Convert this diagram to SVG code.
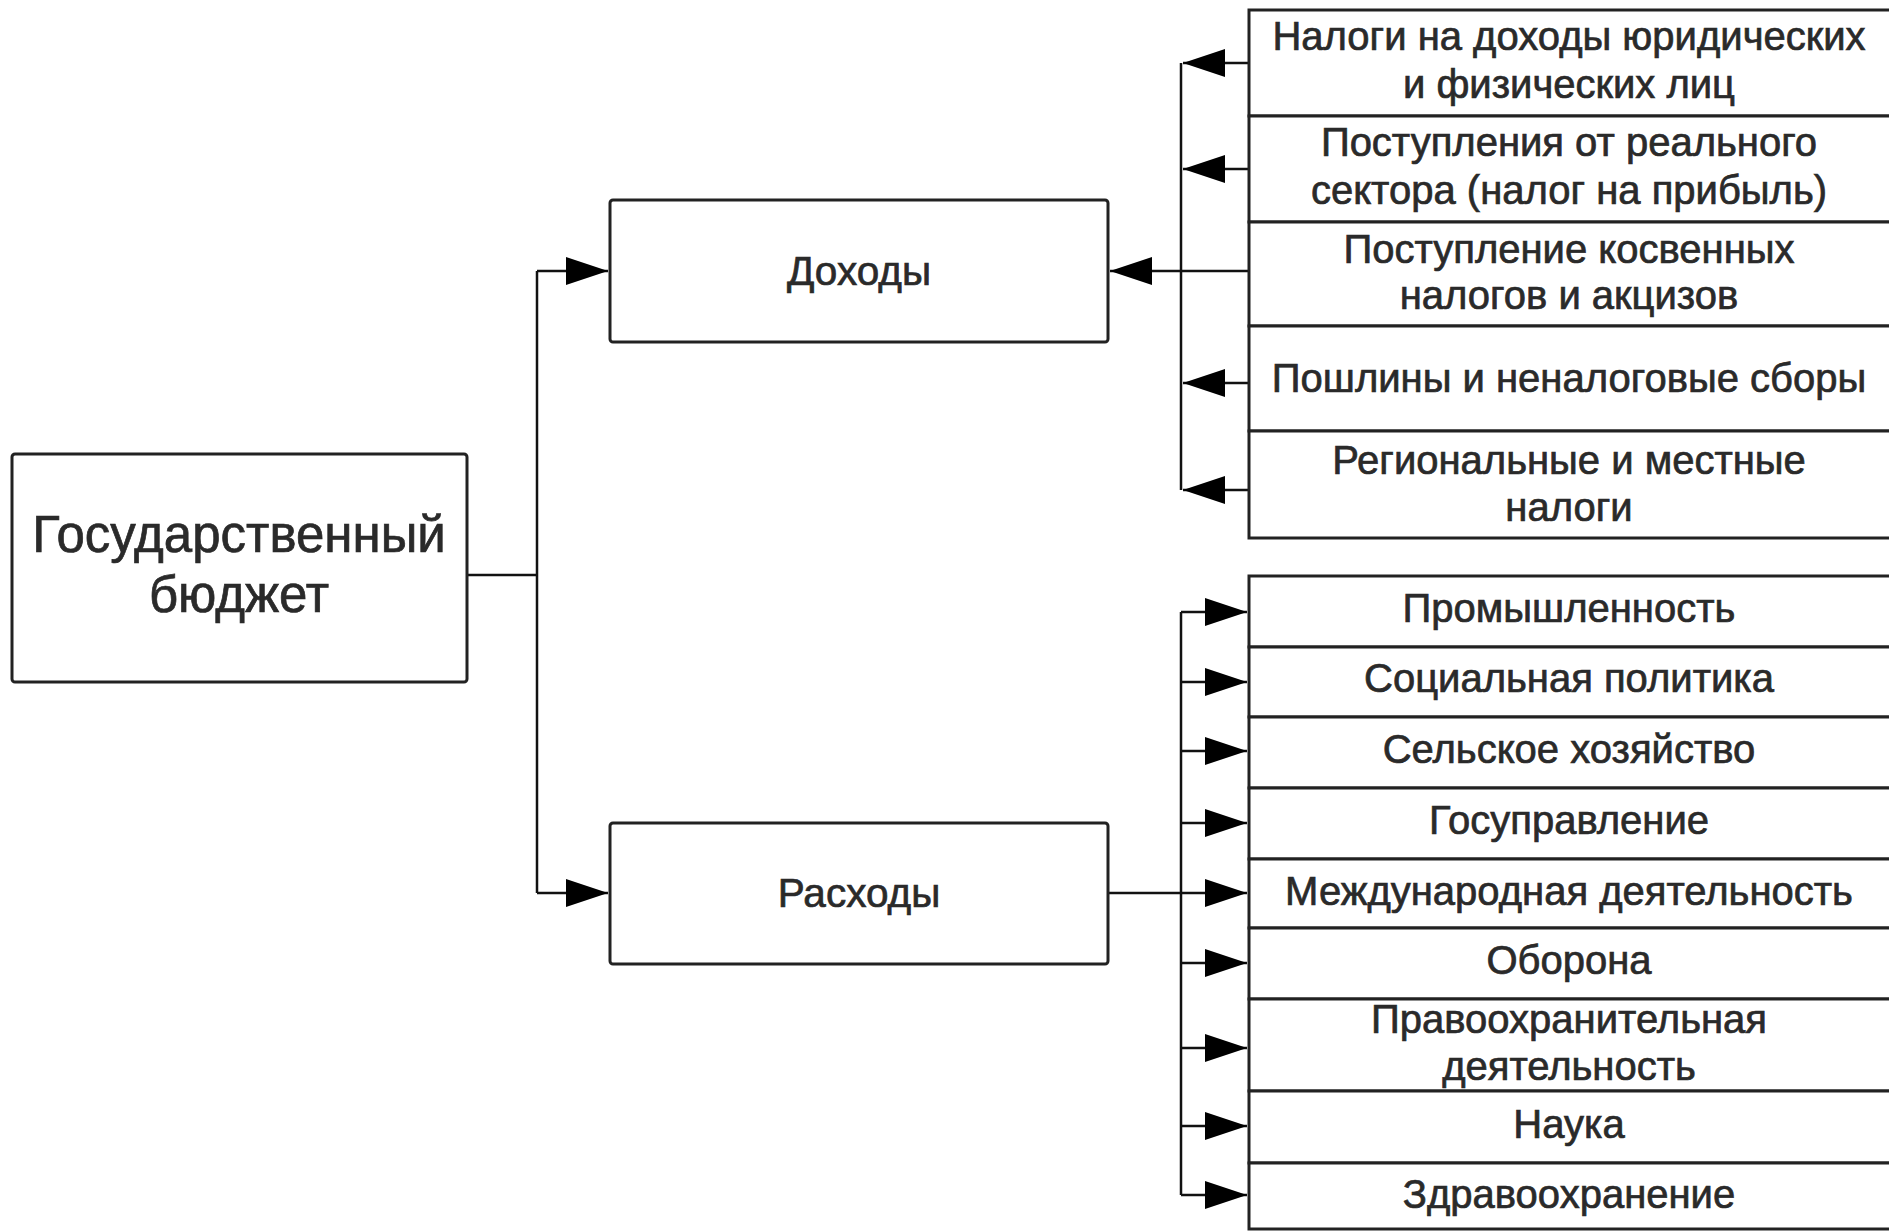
<svg xmlns="http://www.w3.org/2000/svg" width="1889" height="1232" viewBox="0 0 1889 1232">
<style>
.box{fill:#fff;stroke:#222;stroke-width:3}
.ln{fill:none;stroke:#111;stroke-width:2.5}
text{font-family:"Liberation Sans",Arial,sans-serif;fill:#2a2a2a;stroke:#2a2a2a;stroke-width:0.7;text-anchor:middle}
.big{font-size:51px}
.mid{font-size:40.5px}
.sm{font-size:40px}
</style>
<defs>
<marker id="ah" markerUnits="userSpaceOnUse" markerWidth="44" markerHeight="30" refX="42" refY="14" orient="auto">
<path d="M0,0 L42,14 L0,28 z" fill="#000"/>
</marker>
</defs>
<rect width="1889" height="1232" fill="#fff"/>

<g id="connectors">
<path class="ln" d="M467,575 H537"/>
<path class="ln" d="M537,271 V893"/>
<path class="ln" d="M537,271 H608" marker-end="url(#ah)"/>
<path class="ln" d="M537,893 H608" marker-end="url(#ah)"/>
<path class="ln" d="M1181,63 V490"/>
<path class="ln" d="M1249,63 H1183" marker-end="url(#ah)"/>
<path class="ln" d="M1249,169 H1183" marker-end="url(#ah)"/>
<path class="ln" d="M1249,271 H1110" marker-end="url(#ah)"/>
<path class="ln" d="M1249,383 H1183" marker-end="url(#ah)"/>
<path class="ln" d="M1249,490 H1183" marker-end="url(#ah)"/>
<path class="ln" d="M1108,893 H1181"/>
<path class="ln" d="M1181,612 V1195"/>
<path class="ln" d="M1181,612 H1247" marker-end="url(#ah)"/>
<path class="ln" d="M1181,682 H1247" marker-end="url(#ah)"/>
<path class="ln" d="M1181,751 H1247" marker-end="url(#ah)"/>
<path class="ln" d="M1181,823 H1247" marker-end="url(#ah)"/>
<path class="ln" d="M1181,893 H1247" marker-end="url(#ah)"/>
<path class="ln" d="M1181,963 H1247" marker-end="url(#ah)"/>
<path class="ln" d="M1181,1048 H1247" marker-end="url(#ah)"/>
<path class="ln" d="M1181,1126 H1247" marker-end="url(#ah)"/>
<path class="ln" d="M1181,1195 H1247" marker-end="url(#ah)"/>
</g>

<g id="budget">
<rect class="box" x="12" y="454" width="455" height="228" rx="3"/>
<text class="big" x="239" y="552">Государственный</text>
<text class="big" x="239" y="612">бюджет</text>
</g>
<g id="income">
<rect class="box" x="610" y="200" width="498" height="142" rx="3"/>
<text class="mid" x="859" y="285">Доходы</text>
</g>
<g id="expenses">
<rect class="box" x="610" y="823" width="498" height="141" rx="3"/>
<text class="mid" x="859" y="907">Расходы</text>
</g>

<g id="inc1"><rect class="box" x="1249" y="10" width="650" height="106"/>
<text class="sm" x="1569" y="50">Налоги на доходы юридических</text>
<text class="sm" x="1569" y="98">и физических лиц</text></g>
<g id="inc2"><rect class="box" x="1249" y="116" width="650" height="106"/>
<text class="sm" x="1569" y="156">Поступления от реального</text>
<text class="sm" x="1569" y="204">сектора (налог на прибыль)</text></g>
<g id="inc3"><rect class="box" x="1249" y="222" width="650" height="104"/>
<text class="sm" x="1569" y="263">Поступление косвенных</text>
<text class="sm" x="1569" y="309">налогов и акцизов</text></g>
<g id="inc4"><rect class="box" x="1249" y="326" width="650" height="105"/>
<text class="sm" x="1569" y="392">Пошлины и неналоговые сборы</text></g>
<g id="inc5"><rect class="box" x="1249" y="431" width="650" height="107"/>
<text class="sm" x="1569" y="474">Региональные и местные</text>
<text class="sm" x="1569" y="521">налоги</text></g>

<g id="exp1"><rect class="box" x="1249" y="576" width="650" height="71"/>
<text class="sm" x="1569" y="622">Промышленность</text></g>
<g id="exp2"><rect class="box" x="1249" y="647" width="650" height="70"/>
<text class="sm" x="1569" y="692">Социальная политика</text></g>
<g id="exp3"><rect class="box" x="1249" y="717" width="650" height="71"/>
<text class="sm" x="1569" y="763">Сельское хозяйство</text></g>
<g id="exp4"><rect class="box" x="1249" y="788" width="650" height="71"/>
<text class="sm" x="1569" y="834">Госуправление</text></g>
<g id="exp5"><rect class="box" x="1249" y="859" width="650" height="69"/>
<text class="sm" x="1569" y="905">Международная деятельность</text></g>
<g id="exp6"><rect class="box" x="1249" y="928" width="650" height="71"/>
<text class="sm" x="1569" y="974">Оборона</text></g>
<g id="exp7"><rect class="box" x="1249" y="999" width="650" height="92"/>
<text class="sm" x="1569" y="1033">Правоохранительная</text>
<text class="sm" x="1569" y="1080">деятельность</text></g>
<g id="exp8"><rect class="box" x="1249" y="1091" width="650" height="72"/>
<text class="sm" x="1569" y="1138">Наука</text></g>
<g id="exp9"><rect class="box" x="1249" y="1163" width="650" height="66"/>
<text class="sm" x="1569" y="1208">Здравоохранение</text></g>
</svg>
